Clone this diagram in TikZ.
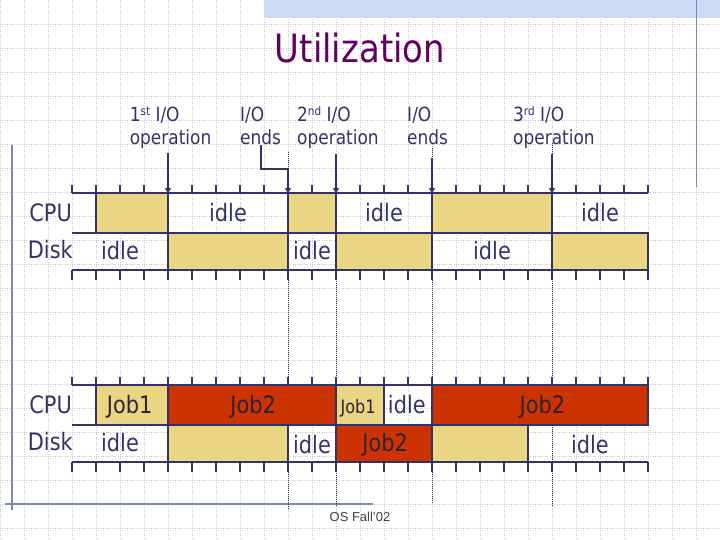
\documentclass[tikz,border=0pt]{standalone}
\usepackage{fontspec}
\setmainfont{DejaVu Sans}[FakeStretch=0.87]
\newfontfamily\footfont{Liberation Sans}
\usepackage{xcolor}
\usetikzlibrary{positioning,calc,arrows.meta}

\definecolor{navy}{RGB}{51,51,102}
\definecolor{busy}{RGB}{233,213,130}
\definecolor{jobred}{RGB}{204,51,0}
\definecolor{jobcol}{RGB}{45,35,45}
\definecolor{titlecol}{RGB}{96,0,96}
\definecolor{barblue}{RGB}{204,218,245}
\definecolor{rulecol}{RGB}{128,136,176}
\definecolor{gridcol}{RGB}{196,196,204}
\definecolor{footcol}{RGB}{64,64,72}

\newcommand{\ordsup}[1]{\raisebox{0.55ex}{\fontsize{12}{14}\selectfont #1}}

\begin{document}
\begin{tikzpicture}[x=24pt,y=24pt,
    gridline/.style={gridcol,line width=0.5pt,dash pattern=on 0.8pt off 1.6pt},
    frame/.style={navy,line width=1.6pt},
    rowlbl/.style={text=navy,font=\fontsize{24}{28}\selectfont,inner sep=0pt,anchor=base},
    joblbl/.style={text=jobcol,font=\fontsize{24}{28}\selectfont,inner sep=0pt,anchor=base},
    evlbl/.style={text=navy,font=\fontsize{19.5}{23.5}\selectfont,align=left,inner sep=0pt,anchor=base west},
    ioarrow/.style={navy,line width=1.8pt,-{Triangle[width=6pt,length=5pt]}},
    guide/.style={navy,line width=0.8pt,dash pattern=on 0.8pt off 1.2pt}]

    \useasboundingbox (0,0) rectangle (30,-22.5);

    % Background grid
    \foreach \gx in {0,...,30} \draw[gridline] (\gx,0) -- (\gx,-22.5);
    \foreach \gy in {1,...,22} \draw[gridline] (0,-\gy) -- (30,-\gy);

    % Page trim
    \fill[barblue] (11,0) rectangle (30,-0.73);
    \draw[rulecol,line width=1.3pt] (29.03,0) -- (29.03,-7.78);
    \draw[rulecol,line width=1.3pt] (0.5,-6.04) -- (0.5,-21.25);
    \draw[rulecol,line width=1.3pt] (0.2,-21.0) -- (15.54,-21.0);

    % Title
    \node[text=titlecol,font=\fontsize{39}{44}\selectfont,inner sep=0pt,anchor=base] (title) at (15,-2.6) {Utilization};

    % Dotted guides
    \foreach \gx/\gtop/\gbot in {12/-6.32/-21.2,14/-6.46/-21.1,18/-6.17/-21.0,23/-5.96/-21.1}
        \draw[guide] (\gx,\gtop) -- (\gx,\gbot);

    % Upper chart: busy periods
    \foreach \xa/\xb in {4/7,12/14,18/23}
        \draw[frame,fill=busy] (\xa,-8.05) rectangle (\xb,-9.71);
    \foreach \xa/\xb in {7/12,14/18,23/27}
        \draw[frame,fill=busy] (\xa,-9.71) rectangle (\xb,-11.25);

    % Lower chart: jobs
    \draw[frame,fill=busy] (4,-16.05) rectangle (7,-17.71);
    \draw[frame,fill=jobred] (7,-16.05) rectangle (14,-17.71);
    \draw[frame,fill=busy] (14,-16.05) rectangle (16,-17.71);
    \draw[frame,fill=jobred] (18,-16.05) rectangle (27,-17.71);
    \draw[frame,fill=busy] (7,-17.71) rectangle (12,-19.25);
    \draw[frame,fill=jobred] (14,-17.71) rectangle (18,-19.25);
    \draw[frame,fill=busy] (18,-17.71) rectangle (22,-19.25);

    % Time axes
    \foreach \off in {0,8} {
        \draw[frame] (3,-8.05-\off) -- (27,-8.05-\off);
        \draw[frame] (3,-9.71-\off) -- (27,-9.71-\off);
        \draw[frame] (3,-11.25-\off) -- (27,-11.25-\off);
        \foreach \i in {0,...,24} {
            \draw[frame,line width=1.3pt] (3+\i,-8.05-\off) -- ++(0,0.34);
            \draw[frame,line width=1.3pt] (3+\i,-11.25-\off) -- ++(0,-0.42);
        }
    }
    \foreach \i in {0,...,24} \coordinate (a\i) at (3+\i,-8.05);

    % Row names
    \foreach \off/\tag in {0/A,8/B} {
        \node[rowlbl,anchor=base east] (cpu\tag) at (3,-9.24-\off) {CPU};
        \node[rowlbl,anchor=base east] (disk\tag) at (3.04,-10.78-\off) {Disk};
    }

    % Upper chart labels
    \node[rowlbl] (idleA1) at (9.5,-9.25) {idle};
    \node[rowlbl] (idleA2) at (16,-9.25) {idle};
    \node[rowlbl] (idleA3) at (25,-9.25) {idle};
    \node[rowlbl] (idleA4) at (5,-10.82) {idle};
    \node[rowlbl] (idleA5) at (13,-10.82) {idle};
    \node[rowlbl] (idleA6) at (20.5,-10.82) {idle};

    % Lower chart labels
    \node[joblbl] (jobB1) at (5.4,-17.24) {Job1};
    \node[joblbl] (jobB2) at (10.55,-17.24) {Job2};
    \node[joblbl,font=\fontsize{18.5}{22}\selectfont] (jobB3) at (14.92,-17.24) {Job1};
    \node[rowlbl] (idleB1) at (16.95,-17.24) {idle};
    \node[joblbl] (jobB4) at (22.6,-17.24) {Job2};
    \node[rowlbl] (idleB2) at (5,-18.82) {idle};
    \node[rowlbl] (idleB3) at (13,-18.9) {idle};
    \node[joblbl] (jobB5) at (16.05,-18.82) {Job2};
    \node[rowlbl] (idleB4) at (24.58,-18.9) {idle};

    % I/O events
    \node[evlbl] (op1) at (5.4,-6.04) {1\ordsup{st} I/O\\operation};
    \node[evlbl] (end1) at (10.0,-6.04) {I/O\\ends};
    \node[evlbl] (op2) at (12.375,-6.04) {2\ordsup{nd} I/O\\operation};
    \node[evlbl] (end2) at (16.96,-6.04) {I/O\\ends};
    \node[evlbl] (op3) at (21.375,-6.04) {3\ordsup{rd} I/O\\operation};

    \draw[ioarrow] ($(op1.south -| a4)+(0,-0.15)$) -- (a4);
    \draw[ioarrow] (end1.south) -- ++(0,-0.99) -| (a9);
    \draw[ioarrow] ($(op2.south -| a11)+(0,-0.22)$) -- (a11);
    \draw[ioarrow] ($(end2.south -| a15)+(0,-0.54)$) -- (a15);
    \draw[ioarrow] ($(op3.south -| a20)+(0,-0.22)$) -- (a20);

    % Footer
    \node[text=footcol,font={\fontsize{13}{15}\footfont}] (foot) at (15,-21.53) {OS Fall’02};
\end{tikzpicture}
\end{document}
